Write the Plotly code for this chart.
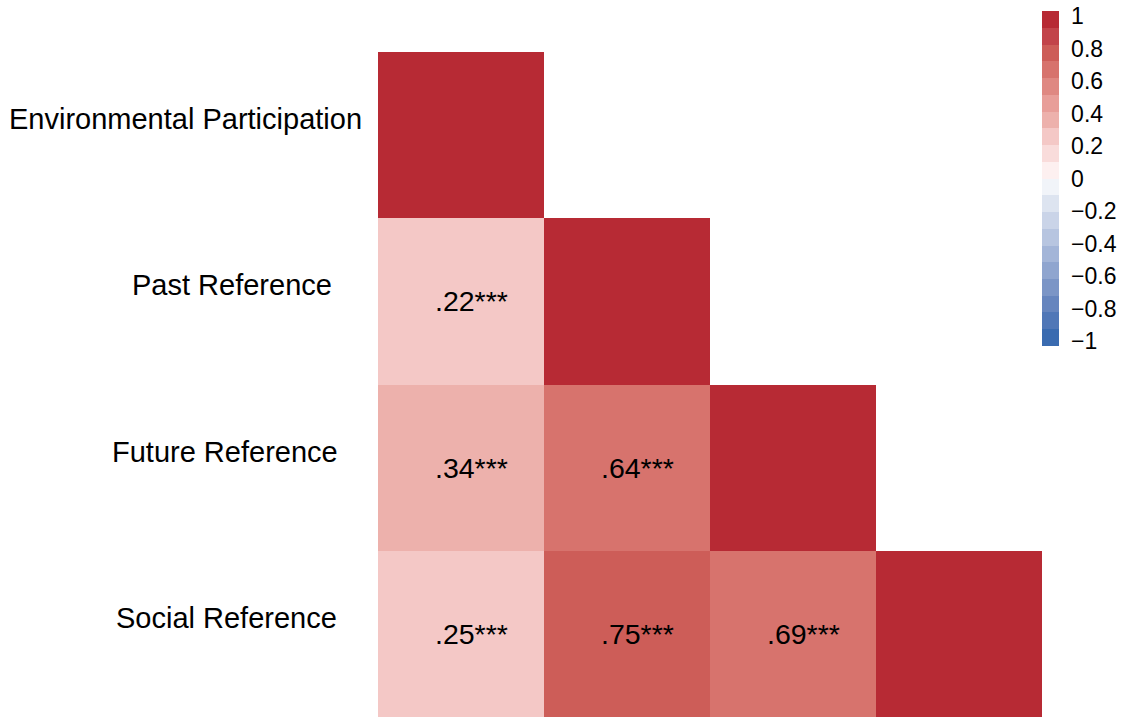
import plotly.graph_objects as go

# Variables (rows top to bottom, columns left to right)
variables = ["Environmental Participation", "Past Reference", "Future Reference", "Social Reference"]

# Lower-triangular correlation matrix (None = not drawn)
corr = [
    [1.00, None, None, None],
    [0.22, 1.00, None, None],
    [0.34, 0.64, 1.00, None],
    [0.25, 0.75, 0.69, 1.00],
]

# Cell labels for the off-diagonal coefficients
cell_labels = [
    ["", "", "", ""],
    [".22***", "", "", ""],
    [".34***", ".64***", "", ""],
    [".25***", ".75***", ".69***", ""],
]

# Colour bar ticks
cbar_ticks = [1, 0.8, 0.6, 0.4, 0.2, 0, -0.2, -0.4, -0.6, -0.8, -1]
cbar_labels = ["1", "0.8", "0.6", "0.4", "0.2", "0", "\u22120.2", "\u22120.4", "\u22120.6", "\u22120.8", "\u22121"]

# 20 discrete bins from -1 to 1 (bottom to top)
bin_colors = [
    "#3A6BB0", "#5077B7", "#6685BE", "#7B95C6", "#8FA5CF",
    "#A3B5D8", "#B7C5E0", "#CAD4E8", "#DDE4F0", "#F1F4F9",
    "#FDF0F0", "#F9DCDB", "#F4C8C6", "#EDB1AC", "#E89E99",
    "#DF8882", "#D7736D", "#CD5D58", "#C2444A", "#B72A34",
]

n_bins = len(bin_colors)
colorscale = []
for i, c in enumerate(bin_colors):
    colorscale.append([i / n_bins, c])
    colorscale.append([(i + 1) / n_bins, c])

FONT = "Liberation Sans, Arial, Helvetica, sans-serif"
n = len(variables)

# Labels sit slightly inside the ends of the bar
LABEL_INSET = 0.97

fig = go.Figure(
    go.Heatmap(
        z=corr,
        x=list(range(n)),
        y=list(range(n)),
        zmin=-1,
        zmax=1,
        colorscale=colorscale,
        hoverongaps=False,
        colorbar=dict(
            xref="container",
            yref="container",
            x=1042 / 1126,
            xanchor="left",
            y=1 - 12 / 717,
            yanchor="top",
            lenmode="pixels",
            len=335,
            thickness=17,
            xpad=0,
            ypad=0,
            outlinewidth=0,
            tickvals=[t * LABEL_INSET for t in cbar_ticks],
            ticktext=cbar_labels,
            ticks="outside",
            ticklen=8,
            tickcolor="rgba(0,0,0,0)",
            tickfont=dict(family=FONT, size=23, color="black"),
        ),
    )
)

# Coefficient labels inside the cells
for r in range(n):
    for c in range(n):
        if cell_labels[r][c]:
            fig.add_annotation(
                x=c, y=r, xref="x", yref="y",
                text=cell_labels[r][c],
                showarrow=False,
                xshift=10,
                font=dict(family=FONT, size=28.5, color="black"),
            )

# Row labels on the left
label_shift = [-14, -44, -38, -39]
for r, name in enumerate(variables):
    fig.add_annotation(
        x=-0.5, y=r, xref="x", yref="y",
        text=name,
        showarrow=False,
        xanchor="right",
        xshift=label_shift[r],
        yshift=16,
        font=dict(family=FONT, size=29, color="black"),
    )

fig.update_xaxes(range=[-0.5, n - 0.5], visible=False, showgrid=False, zeroline=False)
fig.update_yaxes(range=[n - 0.5, -0.5], visible=False, showgrid=False, zeroline=False)

fig.update_layout(
    width=1126,
    height=717,
    margin=dict(l=378, r=81, t=52, b=0),
    paper_bgcolor="white",
    plot_bgcolor="white",
    showlegend=False,
)

fig.write_html("out.html")
